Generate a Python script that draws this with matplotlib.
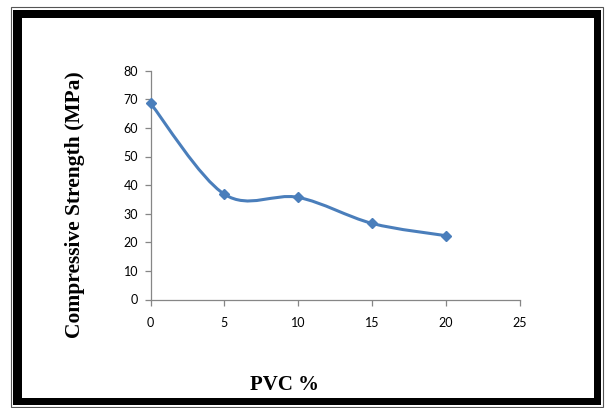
import numpy as np
import matplotlib
matplotlib.use('Agg')
import matplotlib.pyplot as plt
from matplotlib.path import Path
from matplotlib.patches import PathPatch, Rectangle

# data
pvc = [0, 5, 10, 15, 20]
strength = [68.6, 36.8, 35.7, 26.6, 22.3]
x_ticks = [0, 5, 10, 15, 20, 25]
y_ticks = [0, 10, 20, 30, 40, 50, 60, 70, 80]

W, H = 606, 408
fig = plt.figure(figsize=(W / 100, H / 100), dpi=100)

# frame around the whole picture (pixel coords -> figure fraction)
def px_rect(x0, y0, x1, y1, **kw):
    return Rectangle((x0 / W, 1 - y1 / H), (x1 - x0) / W, (y1 - y0) / H,
                     transform=fig.transFigure, zorder=-2, **kw)

fig.add_artist(px_rect(10.5, 6.5, 603, 406.5, facecolor='none',
                       edgecolor='#555555', linewidth=0.8))
fig.add_artist(px_rect(13, 10, 601, 405, facecolor='black', edgecolor='none'))
fig.add_artist(px_rect(22, 18, 594, 398, facecolor='white', edgecolor='none'))

# plot area: x 150.5..520 px, y 70.7..299.5 px
ax = fig.add_axes([150.5 / W, 1 - 299.5 / H, (520 - 150.5) / W, (299.5 - 70.7) / H])
ax.set_facecolor('none')

# smoothed line like the spreadsheet (catmull-rom as bezier)
x = np.array(pvc, dtype=float)
y = np.array(strength, dtype=float)
verts = [(x[0], y[0])]
codes = [Path.MOVETO]
for i in range(len(x) - 1):
    p0 = (x[i - 1], y[i - 1]) if i > 0 else (x[i], y[i])
    p3 = (x[i + 2], y[i + 2]) if i + 2 < len(x) else (x[i + 1], y[i + 1])
    c1 = (x[i] + (x[i + 1] - p0[0]) / 6, y[i] + (y[i + 1] - p0[1]) / 6)
    c2 = (x[i + 1] - (p3[0] - x[i]) / 6, y[i + 1] - (p3[1] - y[i]) / 6)
    verts += [c1, c2, (x[i + 1], y[i + 1])]
    codes += [Path.CURVE4] * 3
ax.add_patch(PathPatch(Path(verts, codes), facecolor='none', edgecolor='#4a7ebb',
                       linewidth=2.2, capstyle='round', zorder=3))
ax.plot(pvc, strength, linestyle='none', marker='D', markersize=5.5,
        color='#4a7ebb', zorder=4, clip_on=False)

ax.set_xlim(0, 25)
ax.set_ylim(0, 80)
ax.set_xticks(x_ticks)
ax.set_yticks(y_ticks)
for s in ['top', 'right']:
    ax.spines[s].set_visible(False)
for s in ['left', 'bottom']:
    ax.spines[s].set_color('#868686')
    ax.spines[s].set_linewidth(0.9)
ax.tick_params(axis='both', direction='out', length=4, width=0.9, color='#868686',
               labelsize=9, labelcolor='black')
ax.tick_params(axis='x', pad=8.5)
ax.tick_params(axis='y', pad=5)
for lab in ax.get_xticklabels() + ax.get_yticklabels():
    lab.set_family(['Lato', 'DejaVu Sans'])

fig.text(75 / W, 1 - 205 / H, 'Compressive Strength (MPa)', rotation=90,
         ha='center', va='center', family='Liberation Serif', weight='bold', fontsize=15.5)
fig.text(285 / W, 1 - 385 / H, 'PVC %', ha='center', va='center',
         family='Liberation Serif', weight='bold', fontsize=15)

fig.savefig('out.png', dpi=100)
